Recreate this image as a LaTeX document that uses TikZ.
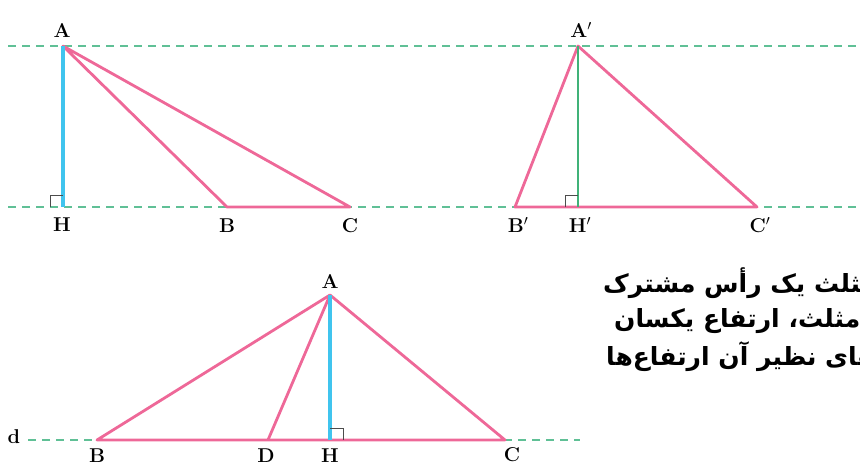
\documentclass[tikz,border=0pt]{standalone}
\usepackage{fontspec}
\usetikzlibrary{positioning}
\TeXXeTstate=1
\newfontfamily\farsifont[Script=Arabic]{DejaVu Sans}
\definecolor{sidePink}{RGB}{238,104,152}
\definecolor{altBlue}{RGB}{64,196,238}
\definecolor{altGreen}{RGB}{64,178,120}
\definecolor{guideGreen}{RGB}{96,192,150}

\begin{document}
\begin{tikzpicture}[x=1pt, y=-1pt,
  side/.style={sidePink, line width=2.8pt, line join=round},
  guide/.style={guideGreen, line width=2.2pt, dash pattern=on 8pt off 6pt},
  altitude/.style={altBlue, line width=3.2pt},
  rightmark/.style={black!70, line width=1pt},
  lbl/.style={font=\fontsize{20}{22}\selectfont\bfseries, inner sep=0pt},
  farsi/.style={font=\fontsize{25}{29}\selectfont\farsifont\bfseries, inner sep=0pt, anchor=west}]
\path[use as bounding box] (0,0) rectangle (860,466);
\begin{scope}
\clip (0,0) rectangle (860,466);
% parallel guide lines
\coordinate (g1l) at (8,46);   \coordinate (g1r) at (860,46);
\coordinate (g2l) at (8,207);  \coordinate (g2r) at (860,207);
\coordinate (g3l) at (28,440); \coordinate (g3r) at (580,440);
\draw[guide] (g1l) -- (g1r);
\draw[guide] (g2l) -- (g2r);
\draw[guide] (g3l) -- (g3r);
% first triangle
\coordinate (A) at (63,46);
\coordinate (H) at (63,207);
\coordinate (B) at (227,207);
\coordinate (C) at (350,207);
\draw[side] (A) -- (B) -- (C) -- cycle;
\draw[altitude] (A) -- (H);
\draw[rightmark] (50,207) -- (50,195) -- (63,195);
\node[lbl] (lA) at (62,30) {A};
\node[lbl] (lH) at (62,225) {H};
\node[lbl] (lB) at (227,226) {B};
\node[lbl] (lC) at (350,226) {C};
% second triangle
\coordinate (A2) at (578,46);
\coordinate (H2) at (578,207);
\coordinate (B2) at (515,207);
\coordinate (C2) at (757,207);
\draw[side] (A2) -- (B2) -- (C2) -- cycle;
\draw[altGreen, line width=2pt] (A2) -- (H2);
\draw[rightmark] (565,207) -- (565,195) -- (578,195);
\node[lbl] (lA2) at (581,30) {A$'$};
\node[lbl] (lB2) at (518,225) {B$'$};
\node[lbl] (lH2) at (580,225) {H$'$};
\node[lbl] (lC2) at (760,225) {C$'$};
% third triangle with cevian AD
\coordinate (A3) at (330,295);
\coordinate (B3) at (97,440);
\coordinate (D3) at (268,440);
\coordinate (H3) at (330,440);
\coordinate (C3) at (505,440);
\draw[side] (A3) -- (B3) -- (C3) -- cycle;
\draw[side] (A3) -- (D3);
\draw[altitude] (A3) -- (H3);
\draw[rightmark] (330,428) -- (343,428) -- (343,440);
\node[lbl] (lA3) at (330,281) {A};
\node[lbl] (lB3) at (97,456) {B};
\node[lbl] (lD3) at (266,456) {D};
\node[lbl] (lH3) at (330,456) {H};
\node[lbl] (lC3) at (512,455) {C};
\node[lbl] (ld) at (14,437) {d};
% text on the right
\node[farsi] (t1) at (603,283) {\beginR مثلث یک رأس مشترک\endR};
\node[farsi] (t2) at (614,321) {\beginR و مثلث، ارتفاع یکسان\endR};
\node[farsi] (t3) at (606,357) {\beginR های نظیر آن ارتفاع‌ها\endR};
\end{scope}
\end{tikzpicture}
\end{document}
